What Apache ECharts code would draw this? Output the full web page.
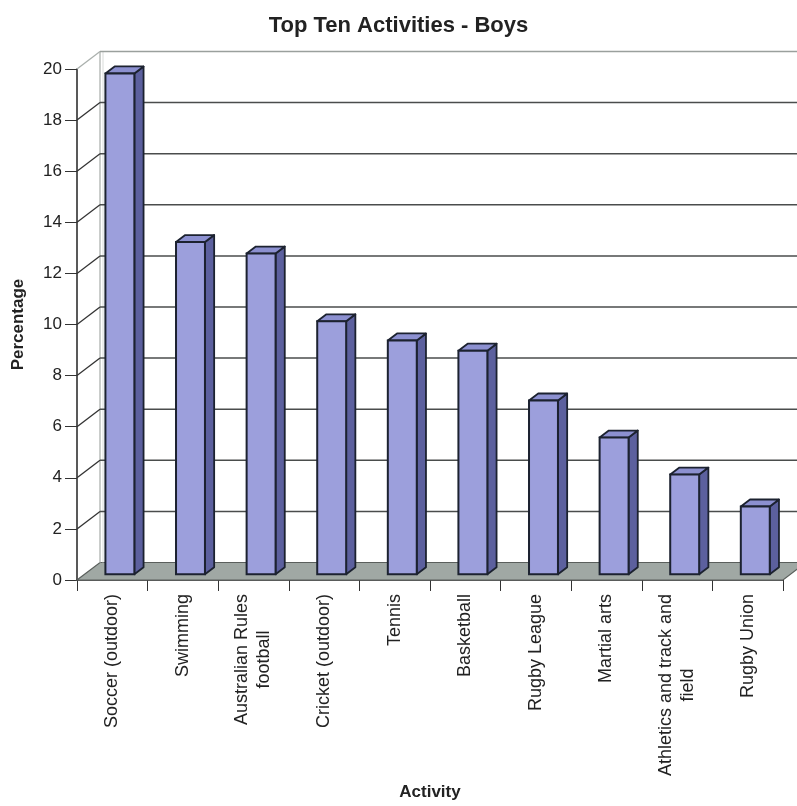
<!DOCTYPE html>
<html><head><meta charset="utf-8">
<script src="https://cdn.jsdelivr.net/npm/echarts@6/dist/echarts.min.js"></script>
<style>html,body{margin:0;padding:0;background:#fff}#c{width:797px;height:806px}</style>
</head><body><div id="c"></div>
<script>
const categories = ['Soccer (outdoor)', 'Swimming', 'Australian Rules\nfootball', 'Cricket (outdoor)', 'Tennis', 'Basketball', 'Rugby League', 'Martial arts', 'Athletics and track and\nfield', 'Rugby Union'];
const percentages = [19.6, 13.0, 12.55, 9.9, 9.15, 8.75, 6.8, 5.35, 3.9, 2.65];
const yTicks = [0, 2, 4, 6, 8, 10, 12, 14, 16, 18, 20];
const yMin = 0, yMax = 20, yStep = 2;

const DEPTH_X = 23, DEPTH_Y = -17.5;   // 3D depth vector (style)
const BAR_POS = 0.33, BAR_DEPTH = 0.4, BAR_WIDTH = 0.41;
const FONT = 'Arial, "Liberation Sans", sans-serif';
const TXT = '#222';

function renderFrame(params, api) {
  const v = api.value(1);
  const band = api.size([1, 0])[0];
  const p = api.coord([0, v]);
  const pr = api.coord([categories.length - 1, v]);
  const x0 = p[0] - band / 2, x1 = pr[0] + band / 2;
  const y = p[1];
  const children = [];
  if (v === yMin) {
    children.push({
      type: 'polygon',
      shape: { points: [[x0, y], [x1, y], [x1 + DEPTH_X, y + DEPTH_Y], [x0 + DEPTH_X, y + DEPTH_Y]] },
      style: { fill: '#a0a8a4', stroke: '#5a5f5c', lineWidth: 1.2 }
    });
    const t = api.coord([0, yMax]);
    children.push({ type: 'line', shape: { x1: x0 + DEPTH_X, y1: y + DEPTH_Y, x2: x0 + DEPTH_X, y2: t[1] + DEPTH_Y },
      style: { stroke: '#b8bcba', lineWidth: 1.5 } });
    children.push({ type: 'line', shape: { x1: x0 + DEPTH_X + 3, y1: y + DEPTH_Y, x2: x0 + DEPTH_X + 3, y2: t[1] + DEPTH_Y },
      style: { stroke: '#d8dbd9', lineWidth: 1 } });
  } else {
    const top = v === yMax;
    const col = top ? '#9aa09d' : '#4a4d4c';
    children.push({ type: 'line', shape: { x1: x0, y1: y, x2: x0 + DEPTH_X, y2: y + DEPTH_Y },
      style: { stroke: top ? '#aab0ad' : '#333', lineWidth: 1.3 } });
    children.push({ type: 'line', shape: { x1: x0 + DEPTH_X, y1: y + DEPTH_Y, x2: x1 + DEPTH_X, y2: y + DEPTH_Y },
      style: { stroke: col, lineWidth: 1.5 } });
  }
  return { type: 'group', children };
}

function renderBar(params, api) {
  const i = api.value(0), v = api.value(1);
  const base = api.coord([i, 0]);
  const top = api.coord([i, v]);
  const band = api.size([1, 0])[0];
  const ox = DEPTH_X * BAR_POS, oy = DEPTH_Y * BAR_POS;
  const dx = DEPTH_X * BAR_DEPTH, dy = DEPTH_Y * BAR_DEPTH;
  const w = band * BAR_WIDTH;
  const cx = base[0] + ox;
  const fx0 = cx - w / 2, fx1 = cx + w / 2;
  const fy0 = top[1] + oy, fy1 = base[1] + oy;
  const stroke = '#1c2230';
  return {
    type: 'group',
    children: [
      { type: 'polygon', shape: { points: [[fx1, fy0], [fx1 + dx, fy0 + dy], [fx1 + dx, fy1 + dy], [fx1, fy1]] },
        style: { fill: '#5c609e', stroke, lineWidth: 1.8, lineJoin: 'round' } },
      { type: 'polygon', shape: { points: [[fx0, fy0], [fx1, fy0], [fx1 + dx, fy0 + dy], [fx0 + dx, fy0 + dy]] },
        style: { fill: '#8c90d0', stroke, lineWidth: 1.8, lineJoin: 'round' } },
      { type: 'rect', shape: { x: fx0, y: fy0, width: w, height: fy1 - fy0 },
        style: { fill: '#9c9fdc', stroke, lineWidth: 2 } }
    ]
  };
}

const chart = echarts.init(document.getElementById('c'), null, { renderer: 'canvas' });
chart.setOption({
  backgroundColor: '#fff',
  animation: false,
  title: {
    text: 'Top Ten Activities - Boys', left: 'center', top: 10,
    textStyle: { fontFamily: FONT, fontSize: 22, fontWeight: 'bold', color: TXT }
  },
  grid: { left: 77, right: 14, top: 69, bottom: 221, containLabel: false },
  xAxis: {
    type: 'category', data: categories,
    name: 'Activity', nameLocation: 'middle', nameGap: 200,
    nameTextStyle: { fontFamily: FONT, fontSize: 17, fontWeight: 'bold', color: TXT },
    axisLine: { show: true, lineStyle: { color: '#222', width: 1.5 } },
    axisTick: { show: true, length: 11, lineStyle: { color: '#333' } },
    axisLabel: {
      rotate: 90, margin: 14, fontFamily: FONT, fontSize: 18, color: TXT, interval: 0,
      formatter: (s) => s.split('\n').map(l => '{c|' + l + '}').join('\n'),
      rich: { c: { align: 'center', fontFamily: FONT, fontSize: 18, color: TXT, lineHeight: 22 } }
    },
    splitLine: { show: false }
  },
  yAxis: {
    type: 'value', min: yMin, max: yMax, interval: yStep,
    name: 'Percentage', nameLocation: 'middle', nameGap: 50, nameRotate: 90,
    nameTextStyle: { fontFamily: FONT, fontSize: 17, fontWeight: 'bold', color: TXT },
    axisLine: { show: true, lineStyle: { color: '#222', width: 1.5 } },
    axisTick: { show: true, length: 12, lineStyle: { color: '#333' } },
    axisLabel: { margin: 15, fontFamily: FONT, fontSize: 17, color: TXT },
    splitLine: { show: false }
  },
  series: [
    { type: 'custom', name: 'frame', renderItem: renderFrame, clip: false, z: 1, silent: true,
      data: yTicks.map(v => [0, v]) },
    { type: 'custom', name: 'Percentage', renderItem: renderBar, clip: false, z: 3,
      data: percentages.map((v, i) => [i, v]) }
  ]
});
</script>
</body></html>
